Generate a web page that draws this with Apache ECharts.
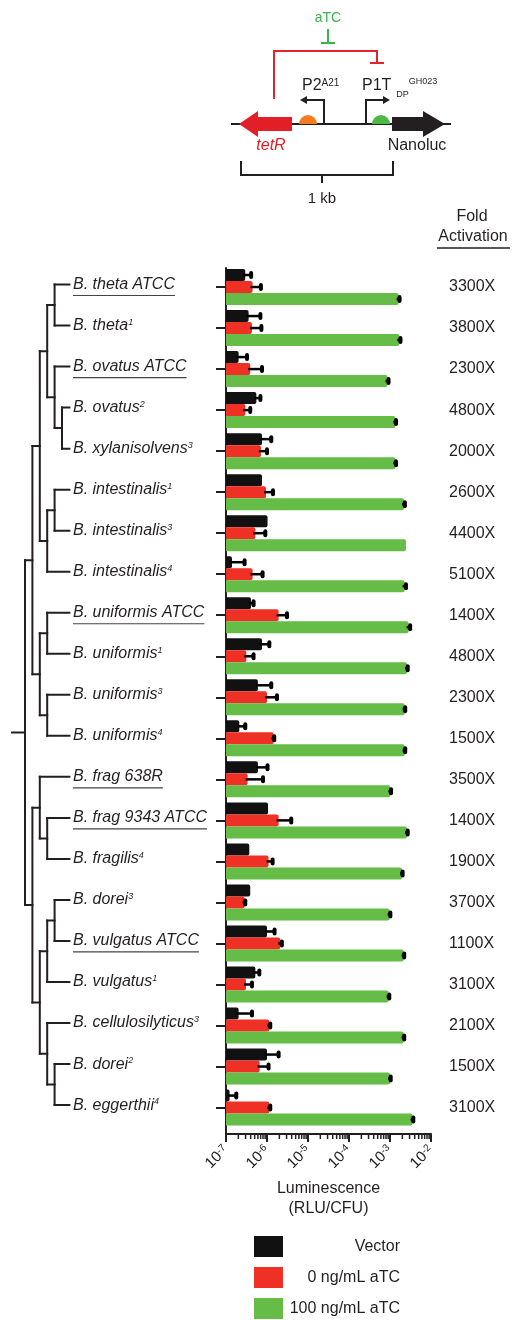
<!DOCTYPE html>
<html>
<head>
<meta charset="utf-8">
<script src="https://cdn.jsdelivr.net/npm/echarts@6/dist/echarts.min.js"></script>
<style>
  html, body { margin: 0; padding: 0; background: #fff; }
  #chart { width: 512px; height: 1320px; }
</style>
</head>
<body>
<div id="chart"></div>
<script>
// strains (rows, top to bottom) and the isolate reference superscript
var strains = ['B. theta ATCC', 'B. theta', 'B. ovatus ATCC', 'B. ovatus', 'B. xylanisolvens',
  'B. intestinalis', 'B. intestinalis', 'B. intestinalis', 'B. uniformis ATCC', 'B. uniformis',
  'B. uniformis', 'B. uniformis', 'B. frag 638R', 'B. frag 9343 ATCC', 'B. fragilis',
  'B. dorei', 'B. vulgatus ATCC', 'B. vulgatus', 'B. cellulosilyticus', 'B. dorei', 'B. eggerthii'];
var isolateRef = ['', '1', '', '2', '3', '1', '3', '4', '', '1', '3', '4', '', '', '4', '3', '', '1', '3', '2', '4'];
var underlined = [0, 2, 8, 12, 13, 16];
var foldActivation = ['3300X', '3800X', '2300X', '4800X', '2000X', '2600X', '4400X', '5100X', '1400X', '4800X',
  '2300X', '1500X', '3500X', '1400X', '1900X', '3700X', '1100X', '3100X', '2100X', '1500X', '3100X'];

// luminescence (RLU/CFU), bar value and top of error bar (null = no error bar)
var vector = [2.95e-7, 3.56e-7, 2.03e-7, 5.5e-7, 7.55e-7, 7.55e-7, 1.03e-6, 1.4e-7, 4.07e-7, 7.55e-7,
  6.0e-7, 2.11e-7, 6.0e-7, 1.06e-6, 3.7e-7, 3.9e-7, 1.0e-6, 5.2e-7, 2.03e-7, 1.0e-6, 1.22e-7];
var vectorErr = [4.1e-7, 6.9e-7, 3.25e-7, 6.9e-7, 1.27e-6, null, null, 2.84e-7, 4.7e-7, 1.14e-6,
  1.27e-6, 2.95e-7, 1.03e-6, null, null, null, 1.53e-6, 6.5e-7, 4.3e-7, 1.92e-6, 1.78e-7];
var atc0 = [4.45e-7, 4.3e-7, 3.9e-7, 2.96e-7, 7.1e-7, 9.45e-7, 5.2e-7, 4.45e-7, 1.92e-6, 3.13e-7,
  1.0e-6, 1.45e-6, 3.36e-7, 1.92e-6, 1.09e-6, 2.84e-7, 2.1e-6, 3.07e-7, 1.14e-6, 6.6e-7, 1.14e-6];
var atc0Err = [7.1e-7, 7.3e-7, 7.55e-7, 3.9e-7, 1.0e-6, 1.4e-6, 9.1e-7, 7.8e-7, 3.07e-6, 4.7e-7,
  1.75e-6, 1.5e-6, 7.98e-7, 3.9e-6, 1.37e-6, 2.95e-7, 2.3e-6, 4.3e-7, 1.2e-6, 1.09e-6, 1.2e-6];
var atc100 = [1.62e-3, 1.69e-3, 8.7e-4, 1.35e-3, 1.35e-3, 2.19e-3, 2.45e-3, 2.27e-3, 2.84e-3, 2.6e-3,
  2.27e-3, 2.27e-3, 1.02e-3, 2.6e-3, 1.96e-3, 9.8e-4, 2.15e-3, 9.25e-4, 2.15e-3, 1.0e-3, 3.55e-3];
var atc100Err = [1.71e-3, 1.8e-3, 9.2e-4, 1.4e-3, 1.4e-3, 2.3e-3, null, 2.45e-3, 3.1e-3, 2.7e-3,
  2.35e-3, 2.35e-3, 1.06e-3, 2.7e-3, 2.03e-3, 1.02e-3, 2.22e-3, 9.6e-4, 2.22e-3, 1.04e-3, 3.7e-3];

var seriesNames = ['Vector', '0 ng/mL aTC', '100 ng/mL aTC'];

// cladogram: [node level, child, child], leaves are row indices
var tree = [1,
  [2,
    [3,
      [4, [5, 0, 1], [5, 2, [6, 3, 4]]],
      [4, [5, 5, 6], 7]
    ],
    [3, [4, 8, 9], [4, 10, 11]]
  ],
  [2,
    [3, 12, [4, 13, 14]],
    [3, [4, [5, 15, 16], 17], [4, 18, [5, 19, 20]]]
  ]
];

var FONT = '"Liberation Sans", Arial, Helvetica, sans-serif';
var INK = '#231f20';
var BAR_W = 12;
var colors = ['#111111', '#ee3124', '#65bc46'];

var treeSegs = [];
function place(node) {
  if (typeof node === 'number') return { y: node, lv: 7 };
  var lv = node[0];
  var kids = node.slice(1).map(place);
  kids.forEach(function (k) { treeSegs.push([[lv, k.y], [k.lv, k.y]]); });
  treeSegs.push([[lv, kids[0].y], [lv, kids[kids.length - 1].y]]);
  return { y: (kids[0].y + kids[kids.length - 1].y) / 2, lv: lv };
}
var rootNode = place(tree);
treeSegs.push([[-0.75, rootNode.y], [rootNode.lv, rootNode.y]]);

// minor ticks of the log axis
var minorTicks = [];
for (var e = -7; e < -2; e++) {
  for (var m = 2; m <= 9; m++) minorTicks.push(m * Math.pow(10, e));
}

var measure = document.createElement('canvas').getContext('2d');
measure.font = 'italic 16px "Liberation Sans"';

function errorSeries(vals, errs, k) {
  return {
    type: 'custom',
    xAxisIndex: 0, yAxisIndex: 0, z: 5, clip: false, silent: true,
    data: vals.map(function (v, i) {
      return [v, errs[i] == null ? v : errs[i], i, errs[i] == null ? 0 : 1];
    }),
    encode: { x: [0, 1], y: 2 },
    renderItem: function (params, api) {
      if (!api.value(3)) return;
      var p0 = api.coord([api.value(0), api.value(2)]);
      var p1 = api.coord([api.value(1), api.value(2)]);
      var y = p0[1] + (k - 1) * BAR_W;
      return {
        type: 'group',
        children: [
          { type: 'line', shape: { x1: p0[0] - 2, y1: y, x2: p1[0], y2: y }, style: { stroke: '#000', lineWidth: 2.5 } },
          { type: 'rect', shape: { x: p1[0] - 2, y: y - 4, width: 4, height: 8, r: 2 }, style: { fill: '#000' } }
        ]
      };
    }
  };
}

function barSeries(vals, k) {
  return {
    name: seriesNames[k],
    type: 'bar',
    xAxisIndex: 0, yAxisIndex: 0,
    barWidth: BAR_W, barGap: '0%',
    itemStyle: { color: colors[k], borderRadius: [0, 2, 2, 0] },
    data: vals,
    silent: true
  };
}

function txt(x, y, text, opt) {
  var s = {
    text: text, fill: INK, fontSize: 16, fontFamily: FONT,
    align: 'center', verticalAlign: 'middle', textAlign: 'center', textVerticalAlign: 'middle'
  };
  for (var key in opt) s[key] = opt[key];
  return { type: 'text', x: x, y: y, style: s, silent: true };
}
function seg(points, color, w) {
  return { type: 'polyline', shape: { points: points }, style: { stroke: color, lineWidth: w, fill: null }, silent: true };
}

var RED = '#e3242b', GREEN = '#39b54a';
var schematic = [
  txt(328, 18, 'aTC', { fill: GREEN, fontSize: 14 }),
  seg([[328, 29], [328, 43]], GREEN, 2),
  seg([[321, 43], [335, 43]], GREEN, 2),
  seg([[274, 99], [274, 51], [377, 51], [377, 63]], RED, 2),
  seg([[370, 63], [384, 63]], RED, 2),
  seg([[231, 124], [451, 124]], INK, 2),
  { type: 'polygon', shape: { points: [[292, 117], [258, 117], [258, 111], [239, 124], [258, 137], [258, 131], [292, 131]] }, style: { fill: '#e21f26' }, silent: true },
  { type: 'polygon', shape: { points: [[392, 117], [423, 117], [423, 111], [445, 124], [423, 137], [423, 131], [392, 131]] }, style: { fill: INK }, silent: true },
  { type: 'sector', shape: { cx: 308, cy: 124, r: 9, r0: 0, startAngle: Math.PI, endAngle: 2 * Math.PI, clockwise: true }, style: { fill: '#f47b20' }, silent: true },
  { type: 'sector', shape: { cx: 381, cy: 124, r: 9, r0: 0, startAngle: Math.PI, endAngle: 2 * Math.PI, clockwise: true }, style: { fill: '#4cb848' }, silent: true },
  seg([[324, 124], [324, 100], [305, 100]], INK, 2),
  { type: 'polygon', shape: { points: [[300, 100], [307, 96], [307, 104]] }, style: { fill: INK }, silent: true },
  seg([[366, 124], [366, 100], [385, 100]], INK, 2),
  { type: 'polygon', shape: { points: [[390, 100], [383, 96], [383, 104]] }, style: { fill: INK }, silent: true },
  txt(302, 86, '{a|P2}{s|A21}', {
    align: 'left', textAlign: 'left',
    rich: { a: { fontSize: 16, fontFamily: FONT, fill: INK, color: INK }, s: { fontSize: 10, fontFamily: FONT, fill: INK, color: INK, verticalAlign: 'top' } }
  }),
  txt(362, 86, '{a|P1T}{b|DP}{s|GH023}', {
    align: 'left', textAlign: 'left',
    rich: {
      a: { fontSize: 16, fontFamily: FONT, fill: INK, color: INK },
      b: { fontSize: 9, fontFamily: FONT, fill: INK, color: INK, verticalAlign: 'bottom', padding: [0, 0, -5, 5] },
      s: { fontSize: 9, fontFamily: FONT, fill: INK, color: INK, verticalAlign: 'top', padding: [-1, 0, 0, 0] }
    }
  }),
  txt(271, 146, 'tetR', { fill: '#e21f26', fontStyle: 'italic' }),
  txt(417, 146, 'Nanoluc'),
  seg([[241, 161], [241, 175], [393, 175], [393, 161]], INK, 2),
  seg([[322, 175], [322, 183]], INK, 2),
  txt(322, 199, '1 kb', { fontSize: 15 }),
  txt(472, 217, 'Fold'),
  txt(473, 237, 'Activation'),
  seg([[437, 248], [510, 248]], INK, 1.5)
];

var chart = echarts.init(document.getElementById('chart'));

var option = {
  animation: false,
  backgroundColor: '#fff',
  textStyle: { fontFamily: FONT, color: INK },
  grid: [
    { left: 226, right: 81, top: 266.5, height: 861.6 },   // bars
    { left: 226, right: 81, top: 268, bottom: 186 },       // frame / log axis
    { left: 10.2, width: 59.2, top: 264, height: 861.6 }   // cladogram
  ],
  xAxis: [
    { type: 'log', gridIndex: 0, logBase: 10, min: 1e-7, max: 1e-2, startValue: 1e-7, show: false },
    {
      type: 'log', gridIndex: 1, logBase: 10, min: 1e-7, max: 1e-2, splitNumber: 5,
      axisLine: { lineStyle: { color: INK, width: 2 } },
      axisTick: { length: 8, lineStyle: { color: INK, width: 2 } },
      splitLine: { show: false },
      axisLabel: {
        rotate: 45, margin: 14, color: INK,
        formatter: function (v) { return '{b|10}{s|' + Math.round(Math.log10(v)) + '}'; },
        rich: {
          b: { fontSize: 15, fontFamily: FONT, color: INK },
          s: { fontSize: 10, fontFamily: FONT, color: INK, verticalAlign: 'top' }
        }
      },
      name: 'Luminescence\n(RLU/CFU)', nameLocation: 'middle', nameGap: 45,
      nameTextStyle: { fontSize: 16, lineHeight: 20, color: INK, fontFamily: FONT }
    },
    { type: 'value', gridIndex: 2, min: -1, max: 7, show: false }
  ],
  yAxis: [
    {
      type: 'category', gridIndex: 0, data: strains.map(function (s, i) { return s + isolateRef[i]; }),
      inverse: true,
      axisLine: { show: false },
      axisTick: { show: true, alignWithLabel: true, length: 10, lineStyle: { color: INK, width: 2 } },
      axisLabel: {
        interval: 0, align: 'left', margin: 153, padding: [0, 0, 5, 0],
        formatter: function (v, i) {
          return '{i|' + strains[i] + '}' + (isolateRef[i] ? '{s|' + isolateRef[i] + '}' : '');
        },
        rich: {
          i: { fontSize: 16, fontStyle: 'italic', fontFamily: FONT, color: INK },
          s: { fontSize: 9, fontStyle: 'italic', fontFamily: FONT, color: INK, verticalAlign: 'top' }
        }
      }
    },
    {
      type: 'category', gridIndex: 0, data: strains.map(function (s, i) { return s + isolateRef[i]; }),
      inverse: true, position: 'right',
      axisLine: { show: false }, axisTick: { show: false },
      axisLabel: {
        interval: 0, margin: 18, fontSize: 16, color: INK, fontFamily: FONT,
        formatter: function (v, i) { return foldActivation[i]; }
      }
    },
    {
      type: 'value', gridIndex: 1, min: 0, max: 1,
      axisLine: { show: true, lineStyle: { color: INK, width: 2 } },
      axisTick: { show: false }, axisLabel: { show: false }, splitLine: { show: false }
    },
    { type: 'value', gridIndex: 2, min: -0.5, max: 20.5, inverse: true, show: false }
  ],
  legend: {
    orient: 'vertical', left: 254, top: 1236, height: 120, padding: 0,
    itemWidth: 29, itemHeight: 21, itemGap: 10,
    icon: 'rect', selectedMode: false,
    data: seriesNames,
    formatter: function (n) { return '{t|' + n + '}'; },
    textStyle: {
      rich: { t: { width: 112, align: 'right', fontSize: 16, color: INK, fontFamily: FONT } }
    }
  },
  graphic: { elements: schematic },
  series: [
    barSeries(vector, 0),
    barSeries(atc0, 1),
    barSeries(atc100, 2),
    errorSeries(vector, vectorErr, 0),
    errorSeries(atc0, atc0Err, 1),
    errorSeries(atc100, atc100Err, 2),
    {
      type: 'custom', xAxisIndex: 1, yAxisIndex: 2, clip: false, silent: true,
      data: minorTicks.map(function (v) { return [v, 0]; }),
      renderItem: function (params, api) {
        var p = api.coord([api.value(0), 0]);
        return { type: 'line', shape: { x1: p[0], y1: p[1], x2: p[0], y2: p[1] + 5 }, style: { stroke: INK, lineWidth: 1.5 } };
      }
    },
    {
      type: 'lines', coordinateSystem: 'cartesian2d', xAxisIndex: 2, yAxisIndex: 3,
      polyline: true, silent: true,
      lineStyle: { color: INK, width: 2, opacity: 1, cap: 'square' },
      data: treeSegs.map(function (s) { return { coords: s }; })
    },
    {
      type: 'custom', xAxisIndex: 2, yAxisIndex: 3, clip: false, silent: true,
      data: underlined.map(function (i) { return [7, i]; }),
      renderItem: function (params, api) {
        var i = api.value(1);
        var p = api.coord([7, i]);
        var w = measure.measureText(strains[i]).width;
        var x0 = p[0] + 3.6;
        return { type: 'line', shape: { x1: x0, y1: p[1] + 11, x2: x0 + w, y2: p[1] + 11 }, style: { stroke: '#444', lineWidth: 1.2 } };
      }
    }
  ]
};

chart.setOption(option);
</script>
</body>
</html>
